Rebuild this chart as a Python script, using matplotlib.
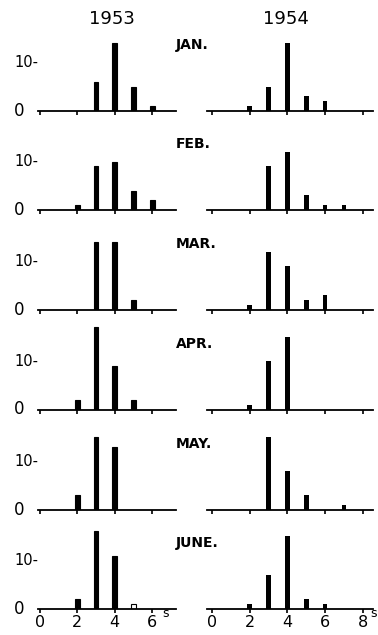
import matplotlib.pyplot as plt
from matplotlib.transforms import blended_transform_factory

# counts per size class (x) for each month
months = ["JAN.", "FEB.", "MAR.", "APR.", "MAY.", "JUNE."]

x_1953 = [
    [3, 4, 5, 6],
    [2, 3, 4, 5, 6],
    [3, 4, 5],
    [2, 3, 4, 5],
    [2, 3, 4],
    [2, 3, 4, 5],
]
y_1953 = [
    [6, 14, 5, 1],
    [1, 9, 10, 4, 2],
    [14, 14, 2],
    [2, 17, 9, 2],
    [3, 15, 13],
    [2, 16, 11, 1],
]
x_1954 = [
    [2, 3, 4, 5, 6],
    [3, 4, 5, 6, 7],
    [2, 3, 4, 5, 6],
    [2, 3, 4],
    [3, 4, 5, 7],
    [2, 3, 4, 5, 6],
]
y_1954 = [
    [1, 5, 14, 3, 2],
    [9, 12, 3, 1, 1],
    [1, 12, 9, 2, 3],
    [1, 10, 15],
    [15, 8, 3, 1],
    [1, 7, 15, 2, 1],
]
# the one open (unfilled) bar: (month index, x)
hollow_1953 = [(5, 5)]

W, H = 378, 635
fig = plt.figure(figsize=(W / 100, H / 100), dpi=100)

baselines = [111, 210, 310, 409.5, 510, 609]
ypx = 4.85  # pixels per count
ytop = 18

def make_axes(left_px, x0, x1, xscale, base_px):
    width = (x1 - x0) * xscale
    height = ytop * ypx
    ax = fig.add_axes([left_px / W, 1 - base_px / H, width / W, height / H])
    ax.set_xlim(x0, x1)
    ax.set_ylim(0, ytop)
    for s in ["top", "right", "left"]:
        ax.spines[s].set_visible(False)
    ax.spines["bottom"].set_linewidth(1.3)
    ax.set_yticks([])
    ax.tick_params(axis="x", direction="out", length=3, width=1.2, pad=1,
                   labelsize=11.5)
    ax.patch.set_alpha(0)
    return ax

for i, m in enumerate(months):
    base = baselines[i]
    last = i == len(months) - 1

    # 1953 panel
    ax = make_axes(38.1, -0.1, 7.3, 18.7, base)
    colors = ["white" if (i, x) in hollow_1953 else "black" for x in x_1953[i]]
    ax.bar(x_1953[i], y_1953[i], width=0.25, color=colors,
           edgecolor="black", linewidth=0.8)
    ax.set_xticks([0, 2, 4, 6])
    if not last:
        ax.set_xticklabels([])
    tr = blended_transform_factory(fig.transFigure, ax.transData)
    ax.text(14 / W, 0, "0", transform=tr, ha="left", va="center", fontsize=12)
    ax.text(14 / W, 10, "10-", transform=tr, ha="left", va="center", fontsize=10.5)
    if last:
        ax.text(6.55, -1.0, "s", fontsize=9, ha="left", va="center")

    # 1954 panel
    ax2 = make_axes(207.3, -0.25, 8.55, 18.85, base)
    ax2.bar(x_1954[i], y_1954[i], width=0.25, color="black")
    ax2.set_xticks([0, 2, 4, 6, 8])
    if not last:
        ax2.set_xticklabels([])
    if last:
        ax2.text(8.42, -1.0, "s", fontsize=9, ha="left", va="center")

    fig.text(176 / W, 1 - (base - 66) / H, m, fontsize=10, fontweight="bold",
             ha="left", va="center")

fig.text(112 / W, 1 - 19 / H, "1953", fontsize=13, ha="center", va="center")
fig.text(286 / W, 1 - 19 / H, "1954", fontsize=13, ha="center", va="center")

fig.savefig("out.png", dpi=100)
